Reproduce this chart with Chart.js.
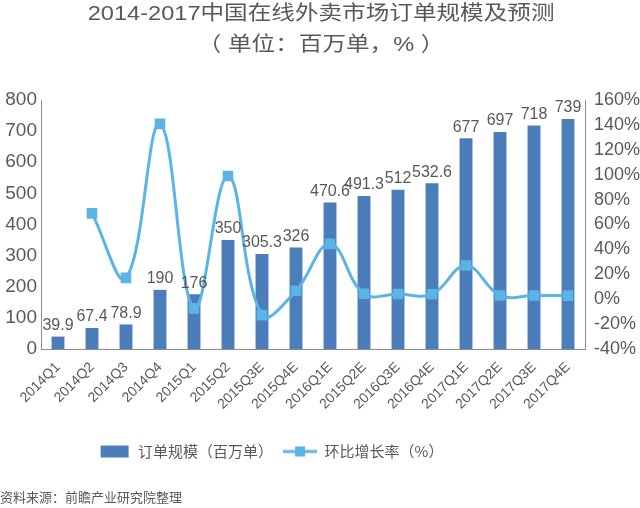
<!DOCTYPE html>
<html>
<head>
<meta charset="utf-8">
<script src="https://cdn.jsdelivr.net/npm/chart.js@4.4.1/dist/chart.umd.min.js"></script>
<style>
  body { margin: 0; background: #fff; }
  #wrap { position: relative; width: 640px; height: 508px; }
  .title { position: absolute; left: 0; width: 640px; text-align: center; color: #595959;
           font-family: "Liberation Sans", "Noto Sans CJK SC", sans-serif; font-size: 20px; line-height: 24px;
           transform: scaleX(1.18); transform-origin: 314px 0; }
  #source { position: absolute; left: 0; top: 487px; color: #595959;
            font-family: "Noto Sans CJK SC", sans-serif; font-size: 13px; line-height: 20px; }
</style>
</head>
<body>
<div id="wrap">
  <div class="title" style="top:1px">2014-2017中国在线外卖市场订单规模及预测</div>
  <div class="title" style="top:32px">（ 单位：百万单，% ）</div>
  <canvas id="myChart" width="640" height="508"></canvas>
  <div id="source">资料来源：前瞻产业研究院整理</div>
</div>
<script>
// chart data ------------------------------------------------------------->
const quarters = ['2014Q1', '2014Q2', '2014Q3', '2014Q4', '2015Q1', '2015Q2', '2015Q3E', '2015Q4E',
                  '2016Q1E', '2015Q2E', '2016Q3E', '2016Q4E', '2017Q1E', '2017Q2E', '2017Q3E', '2017Q4E'];
const orders = [39.9, 67.4, 78.9, 190, 176, 350, 305.3, 326, 470.6, 491.3, 512, 532.6, 677, 697, 718, 739];
const growth = [null, 68.9, 17.1, 140.8, -7.4, 98.9, -12.8, 6.8, 44.4, 4.4, 4.2, 4.0, 27.1, 3.0, 3.0, 2.9];
const leftTicks = [0, 800, 100];     // min, max, step
const rightTicks = [-40, 160, 20];

const barColor = '#4a7dba';
const lineColor = '#5ab4e5';
const textColor = '#595959';
const numFont = '"Liberation Sans", Arial, sans-serif';
const cjkFont = '"Noto Sans CJK SC", sans-serif';

// legend icons
function makeIcon(kind) {
    const c = document.createElement('canvas');
    c.width = 34; c.height = 14;
    const g = c.getContext('2d');
    if (kind === 'bar') {
        g.fillStyle = barColor;
        g.fillRect(4, 1, 28, 12);
    } else {
        g.fillStyle = lineColor;
        g.fillRect(0, 5.5, 34, 3);
        g.fillRect(12, 2, 10, 10);
    }
    return c;
}

// value labels above bars
const barLabels = {
    id: 'barLabels',
    afterDatasetsDraw(chart) {
        const ctx = chart.ctx;
        const meta = chart.getDatasetMeta(0);
        ctx.save();
        ctx.font = '16px ' + numFont;
        ctx.fillStyle = textColor;
        ctx.textAlign = 'center';
        ctx.textBaseline = 'bottom';
        meta.data.forEach((bar, i) => {
            ctx.fillText(String(orders[i]), bar.x, bar.y - 3);
        });
        ctx.restore();
    }
};

// the legend sits left of the centre in the original
const legendShift = {
    id: 'legendShift',
    afterLayout(chart) {
        chart.legend.left -= 50;
        chart.legend.right -= 50;
    }
};

const ctx = document.getElementById('myChart');
const myChart = new Chart(ctx, {
    type: 'bar',
    data: {
        labels: quarters,
        datasets: [
            {
                type: 'bar',
                label: '订单规模（百万单）',
                data: orders,
                backgroundColor: barColor,
                barPercentage: 0.38,
                categoryPercentage: 1,
                yAxisID: 'y',
                order: 1
            },
            {
                type: 'line',
                label: '环比增长率（%）',
                data: growth,
                borderColor: lineColor,
                backgroundColor: lineColor,
                borderWidth: 3,
                pointStyle: 'rect',
                pointRadius: 7.5,
                pointBorderWidth: 0,
                tension: 0.4,
                yAxisID: 'y1',
                order: 0
            }
        ]
    },
    plugins: [barLabels, legendShift],
    options: {
        responsive: false,
        animation: false,
        layout: { padding: { top: 100, bottom: 39, left: 0, right: 0 } },
        plugins: {
            tooltip: { enabled: false },
            legend: {
                position: 'bottom',
                labels: {
                    usePointStyle: true,
                    pointStyleWidth: 34,
                    padding: 10,
                    color: textColor,
                    font: { family: cjkFont, size: 15 },
                    generateLabels(chart) {
                        return chart.data.datasets.map((ds, i) => ({
                            text: ds.label,
                            pointStyle: makeIcon(i === 0 ? 'bar' : 'line'),
                            fillStyle: 'transparent',
                            strokeStyle: 'transparent',
                            lineWidth: 0,
                            fontColor: textColor,
                            datasetIndex: i
                        }));
                    }
                }
            }
        },
        scales: {
            x: {
                grid: { display: false },
                border: { color: '#8c8c8c' },
                ticks: {
                    color: textColor,
                    font: { family: numFont, size: 14 },
                    minRotation: 45,
                    maxRotation: 45,
                    autoSkip: false,
                    padding: 2
                },
                afterFit(scale) { scale.height = 85; }
            },
            y: {
                position: 'left',
                min: leftTicks[0],
                max: leftTicks[1],
                grid: { display: false, drawTicks: false },
                border: { color: '#8c8c8c' },
                ticks: {
                    stepSize: leftTicks[2],
                    color: textColor,
                    font: { family: numFont, size: 19 },
                    padding: 4
                },
                afterFit(scale) { scale.width = 41; }
            },
            y1: {
                position: 'right',
                min: rightTicks[0],
                max: rightTicks[1],
                grid: { display: false, drawTicks: false },
                border: { color: '#8c8c8c' },
                ticks: {
                    stepSize: rightTicks[2],
                    color: textColor,
                    font: { family: numFont, size: 18 },
                    padding: 9,
                    callback: v => v + '%'
                },
                afterFit(scale) { scale.width = 55; }
            }
        }
    }
});
</script>
</body>
</html>
